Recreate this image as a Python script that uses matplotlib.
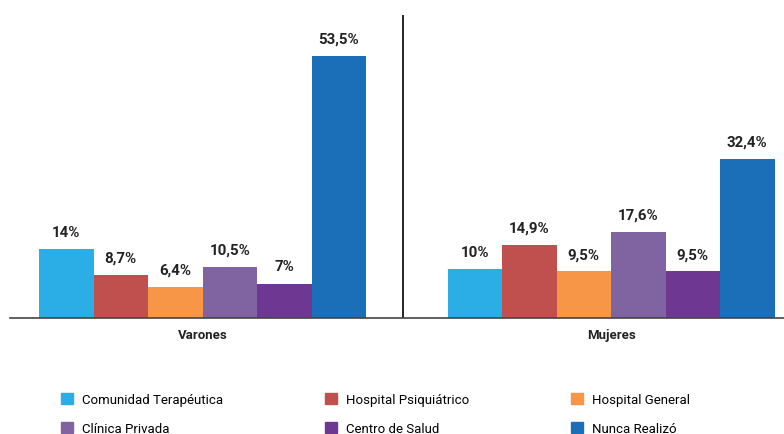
import matplotlib
matplotlib.use("Agg")
import matplotlib.pyplot as plt
from matplotlib.patches import Patch
import numpy as np

plt.rcParams['font.family'] = ['Roboto', 'DejaVu Sans']

grupos = ['Varones', 'Mujeres']
series = ['Comunidad Terapéutica', 'Hospital Psiquiátrico', 'Hospital General',
          'Clínica Privada', 'Centro de Salud', 'Nunca Realizó']
varones = [14, 8.7, 6.4, 10.5, 7, 53.5]
mujeres = [10, 14.9, 9.5, 17.6, 9.5, 32.4]
etiquetas_v = ['14%', '8,7%', '6,4%', '10,5%', '7%', '53,5%']
etiquetas_m = ['10%', '14,9%', '9,5%', '17,6%', '9,5%', '32,4%']
colores = ['#2AAEE5', '#C0504D', '#F79646', '#8064A2', '#6E3892', '#1B6FB8']

fig = plt.figure(figsize=(7.84, 4.35), dpi=100)
ax = fig.add_axes([10/784, (435-319)/435, 774/784, (319-16)/435])

w = 54.5/408.5
x = np.arange(len(grupos))
valores = [varones, mujeres]
etiquetas = [etiquetas_v, etiquetas_m]
for i in range(len(series)):
    off = (i - 2.5) * w
    vals = [valores[g][i] for g in range(2)]
    bars = ax.bar(x + off, vals, w, color=colores[i], label=series[i])
    for g, b in enumerate(bars):
        ax.annotate(etiquetas[g][i], (b.get_x() + w/2, b.get_height()),
                    xytext=(0, 12.5), textcoords='offset points',
                    ha='center', va='center', fontsize=10.8, fontweight='bold',
                    color='#222222')

ax.set_xlim((10-202.5)/408.5, (784-202.5)/408.5)
ax.set_ylim(0, 306/4.95)
ax.axvline((403-202.5)/408.5, color='black', lw=1.2)
for s in ['top', 'right', 'left']:
    ax.spines[s].set_visible(False)
ax.spines['bottom'].set_color('#444444')
ax.spines['bottom'].set_linewidth(1.2)
ax.set_yticks([])
ax.set_xticks(x)
ax.set_xticklabels(grupos, fontweight='bold', fontsize=9.5, color='#222222')
ax.tick_params(axis='x', length=0, pad=7)

handles = [Patch(color=c) for c in colores]
orden = [0, 3, 1, 4, 2, 5]
fig.legend([handles[k] for k in orden], [series[k] for k in orden], ncol=3,
           loc='upper left', bbox_to_anchor=(56/784, 1 - 389/435), frameon=False,
           fontsize=9.5, handlelength=0.9, handleheight=0.9, handletextpad=0.7,
           columnspacing=7.7, labelspacing=1.2, borderaxespad=0)

plt.savefig('out.png', dpi=100)
